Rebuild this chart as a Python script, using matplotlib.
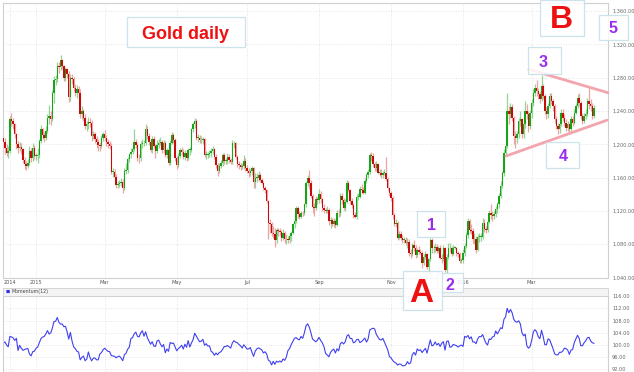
import numpy as np
import pandas as pd
import matplotlib
matplotlib.use("Agg")
import matplotlib.pyplot as plt
from matplotlib.patches import Rectangle

# ---------------- data ----------------
start_date = "2014-12-04"
# 12 closes before the first visible candle (needed for Momentum(12))
warmup_close = [1197, 1184, 1191, 1200, 1197, 1197, 1197, 1195, 1175, 1219, 1199, 1208]

close = [
    1203, 1195, 1190, 1192, 1230, 1228, 1224, 1212, 1200, 1196, 1197, 1194, 1181, 1176, 1174, 1177, 1192, 1183, 1196, 1186,
    1186, 1187, 1204, 1218, 1211, 1208, 1216, 1232, 1234, 1230, 1262, 1277, 1278, 1294, 1293, 1301, 1294, 1280, 1290, 1285, 1257, 1280,
    1278, 1268, 1262, 1266, 1262, 1236, 1240, 1232, 1222, 1224, 1227, 1226, 1210, 1212, 1207, 1203, 1199, 1198, 1208, 1212,
    1208, 1203, 1200, 1198, 1167, 1167, 1161, 1151, 1152, 1153, 1155, 1148, 1168, 1169, 1182, 1188, 1191, 1194, 1203, 1199, 1184, 1183,
    1200, 1201, 1201, 1219, 1210, 1203, 1193, 1206, 1198, 1192, 1199, 1201, 1203, 1193, 1202, 1187, 1193, 1177, 1202, 1211, 1205, 1183,
    1175, 1186, 1193, 1191, 1185, 1189, 1183, 1193, 1193, 1218, 1225, 1228, 1208, 1208, 1205, 1205, 1206, 1187, 1187, 1188, 1189,
    1192, 1194, 1185, 1175, 1168, 1174, 1177, 1187, 1180, 1180, 1185, 1181, 1179, 1201, 1201, 1185, 1176, 1175, 1173, 1174, 1180, 1172,
    1168, 1165, 1168, 1171, 1155, 1160, 1160, 1163, 1157, 1154, 1148, 1145, 1132, 1106, 1104, 1093, 1092, 1085, 1097, 1096, 1095, 1088, 1094,
    1086, 1086, 1085, 1090, 1094, 1104, 1108, 1123, 1116, 1113, 1118, 1117, 1128, 1153, 1160, 1154, 1138, 1125, 1124, 1134, 1133,
    1140, 1134, 1124, 1121, 1120, 1121, 1108, 1109, 1104, 1108, 1103, 1118, 1117, 1138, 1133, 1124, 1131, 1153, 1145, 1132, 1127, 1115,
    1113, 1137, 1137, 1146, 1145, 1142, 1156, 1163, 1167, 1187, 1186, 1176, 1171, 1176, 1166, 1166, 1163, 1166, 1166, 1158, 1147, 1141,
    1135, 1115, 1104, 1105, 1088, 1092, 1088, 1085, 1085, 1081, 1083, 1069, 1068, 1079, 1076, 1067, 1073, 1071, 1070, 1057, 1065,
    1068, 1053, 1062, 1085, 1075, 1075, 1077, 1072, 1076, 1064, 1062, 1076, 1049, 1065, 1075, 1076, 1068, 1076, 1076, 1069, 1068, 1060, 1061,
    1070, 1078, 1091, 1108, 1097, 1096, 1086, 1086, 1073, 1089, 1089, 1089, 1106, 1098, 1097, 1107, 1118, 1115, 1114, 1116, 1122,
    1128, 1138, 1150, 1165, 1190, 1198, 1240, 1236, 1245, 1232, 1210, 1208, 1212, 1228, 1230, 1212, 1225, 1240, 1236, 1222, 1238,
    1250, 1262, 1268, 1264, 1260, 1255, 1270, 1258, 1240, 1236, 1246, 1258, 1252, 1246, 1230, 1222, 1218, 1224, 1238, 1232, 1226, 1220, 1224,
    1218, 1230, 1226, 1238, 1246, 1256, 1250, 1234, 1228, 1234, 1236, 1252, 1248, 1246, 1234, 1244,
]

high = [
    1212, 1208, 1200, 1198, 1234, 1238, 1232, 1226, 1214, 1204, 1203, 1202, 1196, 1185, 1180, 1182, 1198, 1195, 1201, 1199,
    1190, 1195, 1207, 1223, 1220, 1215, 1222, 1236, 1247, 1240, 1265, 1282, 1283, 1299, 1299, 1307, 1302, 1295, 1293, 1292, 1288, 1284,
    1284, 1281, 1272, 1271, 1270, 1266, 1246, 1243, 1236, 1228, 1233, 1232, 1229, 1216, 1215, 1210, 1207, 1203, 1211, 1215,
    1217, 1211, 1207, 1204, 1202, 1172, 1170, 1164, 1156, 1157, 1160, 1158, 1171, 1177, 1185, 1190, 1195, 1198, 1219, 1206, 1201, 1188,
    1204, 1207, 1205, 1224, 1222, 1214, 1206, 1210, 1210, 1200, 1205, 1207, 1209, 1205, 1205, 1204, 1196, 1196, 1205, 1215, 1214, 1208,
    1186, 1189, 1196, 1197, 1194, 1193, 1191, 1195, 1197, 1220, 1227, 1232, 1230, 1213, 1211, 1210, 1209, 1208, 1192, 1191, 1193,
    1195, 1198, 1196, 1188, 1178, 1178, 1181, 1190, 1190, 1184, 1189, 1188, 1184, 1205, 1204, 1203, 1187, 1180, 1178, 1177, 1187, 1183,
    1175, 1172, 1170, 1174, 1173, 1165, 1166, 1168, 1165, 1160, 1156, 1150, 1146, 1133, 1110, 1107, 1102, 1099, 1099, 1100, 1099, 1097, 1098,
    1096, 1092, 1090, 1093, 1096, 1106, 1112, 1126, 1126, 1120, 1120, 1120, 1130, 1156, 1163, 1169, 1157, 1140, 1130, 1138, 1137,
    1146, 1144, 1136, 1128, 1124, 1126, 1124, 1113, 1112, 1111, 1110, 1121, 1122, 1142, 1141, 1135, 1134, 1157, 1156, 1146, 1135, 1129,
    1119, 1140, 1142, 1150, 1152, 1149, 1160, 1166, 1170, 1190, 1191, 1189, 1179, 1180, 1178, 1170, 1170, 1168, 1170, 1185, 1161, 1149,
    1144, 1138, 1118, 1110, 1108, 1096, 1096, 1091, 1089, 1089, 1087, 1086, 1074, 1081, 1085, 1079, 1075, 1078, 1074, 1072, 1068,
    1072, 1070, 1063, 1088, 1088, 1079, 1081, 1080, 1078, 1079, 1068, 1079, 1077, 1068, 1081, 1081, 1078, 1079, 1078, 1077, 1072, 1071, 1064,
    1074, 1082, 1095, 1112, 1110, 1104, 1100, 1094, 1090, 1092, 1094, 1093, 1112, 1110, 1102, 1110, 1121, 1128, 1120, 1120, 1126,
    1131, 1142, 1156, 1168, 1194, 1202, 1262, 1246, 1250, 1248, 1234, 1216, 1216, 1232, 1240, 1232, 1228, 1252, 1248, 1240, 1241,
    1254, 1266, 1272, 1277, 1268, 1264, 1283, 1272, 1260, 1245, 1250, 1262, 1262, 1255, 1248, 1234, 1226, 1228, 1242, 1243, 1236, 1230, 1228,
    1226, 1234, 1234, 1242, 1250, 1260, 1262, 1252, 1238, 1238, 1242, 1256, 1268, 1254, 1250, 1247,
]

low = [
    1198, 1188, 1186, 1183, 1190, 1222, 1218, 1208, 1194, 1190, 1192, 1188, 1177, 1170, 1169, 1172, 1175, 1179, 1180, 1182,
    1181, 1177, 1183, 1201, 1206, 1203, 1205, 1214, 1225, 1223, 1228, 1250, 1271, 1275, 1286, 1289, 1290, 1276, 1276, 1280, 1251, 1252,
    1272, 1264, 1258, 1256, 1258, 1232, 1230, 1228, 1218, 1216, 1219, 1221, 1204, 1206, 1202, 1196, 1192, 1192, 1195, 1204,
    1204, 1198, 1195, 1194, 1164, 1161, 1157, 1148, 1147, 1149, 1150, 1142, 1145, 1164, 1165, 1179, 1184, 1188, 1192, 1196, 1180, 1178,
    1180, 1196, 1198, 1199, 1207, 1199, 1191, 1190, 1196, 1183, 1190, 1196, 1199, 1190, 1190, 1185, 1184, 1175, 1175, 1200, 1201, 1180,
    1170, 1173, 1184, 1187, 1182, 1181, 1180, 1181, 1187, 1191, 1215, 1220, 1205, 1203, 1202, 1202, 1200, 1185, 1182, 1183, 1185,
    1185, 1188, 1182, 1172, 1162, 1165, 1171, 1174, 1176, 1176, 1176, 1178, 1176, 1176, 1196, 1182, 1173, 1170, 1169, 1170, 1170, 1168,
    1165, 1161, 1162, 1163, 1147, 1148, 1155, 1156, 1155, 1152, 1145, 1142, 1130, 1086, 1093, 1090, 1087, 1077, 1081, 1090, 1091, 1084, 1085,
    1082, 1080, 1081, 1081, 1084, 1092, 1100, 1106, 1112, 1110, 1111, 1114, 1115, 1125, 1150, 1146, 1136, 1118, 1114, 1121, 1128,
    1130, 1130, 1120, 1117, 1117, 1118, 1103, 1100, 1102, 1101, 1100, 1102, 1113, 1114, 1128, 1121, 1120, 1130, 1143, 1128, 1124, 1112,
    1111, 1110, 1133, 1135, 1141, 1140, 1140, 1153, 1160, 1164, 1180, 1173, 1168, 1168, 1164, 1162, 1160, 1160, 1163, 1156, 1145, 1138,
    1132, 1110, 1102, 1101, 1085, 1086, 1085, 1082, 1081, 1079, 1076, 1066, 1063, 1066, 1072, 1063, 1065, 1068, 1068, 1052, 1055,
    1062, 1050, 1046, 1060, 1070, 1070, 1071, 1069, 1070, 1062, 1058, 1060, 1047, 1045, 1062, 1071, 1066, 1067, 1074, 1066, 1065, 1058, 1057,
    1058, 1066, 1075, 1088, 1093, 1092, 1082, 1080, 1070, 1072, 1083, 1084, 1086, 1095, 1093, 1095, 1105, 1110, 1108, 1110, 1113,
    1118, 1124, 1136, 1148, 1162, 1186, 1196, 1225, 1232, 1228, 1200, 1195, 1202, 1208, 1222, 1208, 1208, 1220, 1230, 1215, 1218,
    1232, 1246, 1258, 1258, 1255, 1250, 1252, 1254, 1236, 1230, 1232, 1244, 1248, 1240, 1226, 1218, 1212, 1214, 1222, 1228, 1222, 1216, 1216,
    1214, 1216, 1222, 1224, 1236, 1244, 1246, 1230, 1224, 1226, 1230, 1234, 1242, 1240, 1230, 1232,
]

tick_dates = ["2014-12-10", "2015-01-01", "2015-03-02", "2015-05-01", "2015-07-01",
              "2015-09-01", "2015-11-02", "2016-01-01", "2016-03-01"]
tick_labels = ["2014", "2015", "Mar", "May", "Jul", "Sep", "Nov", "2016", "Mar"]
price_ticks = [1040, 1080, 1120, 1160, 1200, 1240, 1280, 1320, 1360]
mom_ticks = [92, 96, 100, 104, 108, 112, 116]
mom_period = 12

# triangle trend lines (candle index, price)
upper_trend_x, upper_trend_y = [321.3, 369.6], [1290, 1262]
lower_trend_x, lower_trend_y = [307.3, 369.0], [1186, 1229]

# ---------------- figure ----------------
W, H = 634, 372
fig = plt.figure(figsize=(W / 100, H / 100), dpi=100)
fig.patch.set_facecolor("white")


def rect(l, t, r, b):
    return [l / W, 1 - b / H, (r - l) / W, (b - t) / H]


ax = fig.add_axes(rect(3, 3, 607.5, 277.5))
axm = fig.add_axes(rect(3, 296, 607.5, 372))

n = len(close)
xs = np.arange(n)
c = np.array(close, float)
full = np.array(warmup_close + close, float)
o = full[len(warmup_close) - 1:-1]
hi = np.maximum.reduce([np.array(high, float), o, c])
lo = np.minimum.reduce([np.array(low, float), o, c])
up = c >= o

dates = pd.bdate_range(start_date, periods=n)
tick_idx = dates.searchsorted(pd.to_datetime(tick_dates))

# wicks
ax.vlines(xs[up], lo[up], hi[up], color="#94d494", lw=0.9, zorder=2)
ax.vlines(xs[~up], lo[~up], hi[~up], color="#eea4a4", lw=0.9, zorder=2)
# bodies
diff = c - o
hgt = np.where(np.abs(diff) < 0.8, np.where(diff >= 0, 0.8, -0.8), diff)
ax.bar(xs[up], hgt[up], bottom=o[up], width=0.9, color="#18a418", linewidth=0, zorder=3)
ax.bar(xs[~up], hgt[~up], bottom=o[~up], width=0.9, color="#c80c0c", linewidth=0, zorder=3)

# triangle
ax.plot(upper_trend_x, upper_trend_y, color="#f4a4ad", lw=2, solid_capstyle="round", zorder=4, clip_on=False)
ax.plot(lower_trend_x, lower_trend_y, color="#f4a4ad", lw=2, solid_capstyle="round", zorder=4, clip_on=False)

x_lo = (3 - 3.3) / 1.636
x_hi = (607.5 - 3.3) / 1.636
for a in (ax, axm):
    a.set_xlim(x_lo, x_hi)
    a.set_xticks(tick_idx)
    a.grid(True, color="#dcdcdc", lw=0.6, ls=(0, (1, 2)))
    a.set_axisbelow(True)
    for s in a.spines.values():
        s.set_color("#d0d0d0")
        s.set_linewidth(0.8)
    a.yaxis.tick_right()
    a.tick_params(axis="both", length=0)

ax.set_ylim(1040.4, 1369.8)
ax.set_yticks(price_ticks)
ax.set_yticklabels([f"{v:,.2f}" for v in price_ticks])
ax.tick_params(axis="y", pad=3.3, labelsize=3.6, labelcolor="#666666")
ax.set_xticklabels(tick_labels)
ax.tick_params(axis="x", pad=1.6, labelsize=3.6, labelcolor="#555555")

# momentum
mom = full[mom_period:] / full[:-mom_period] * 100
axm.plot(xs, mom, color="#4040f0", lw=0.8)
axm.set_ylim(91.0, 116.1)
axm.set_yticks(mom_ticks)
axm.set_yticklabels([f"{v:.2f}" for v in mom_ticks])
axm.tick_params(axis="y", pad=3.3, labelsize=3.6, labelcolor="#666666")
axm.set_xticklabels([])

# momentum header strip
fig.patches.append(Rectangle((3 / W, 1 - 296 / H), 604.5 / W, 8 / H, transform=fig.transFigure,
                             facecolor="#f4f4f4", edgecolor="#d0d0d0", lw=0.6))
fig.text(6 / W, 1 - 292 / H, "■", color="#3030e0", fontsize=3.2, va="center", ha="left")
fig.text(11 / W, 1 - 292 / H, "Momentum(12)", color="#444444", fontsize=3.4, va="center", ha="left")

# annotation boxes and labels
RED = "#ee1111"
PURPLE = "#9a2cf0"
FONT = ["Liberation Sans", "DejaVu Sans"]


def box(l, t, r, b):
    fig.patches.append(Rectangle((l / W, 1 - b / H), (r - l) / W, (b - t) / H, transform=fig.transFigure,
                                 facecolor="white", alpha=0.85, edgecolor="#c6dde9", lw=0.9, zorder=5))


def label(txt, xc, yb, color, size):
    fig.text(xc / W, 1 - yb / H, txt, color=color, fontsize=size, fontweight="bold",
             ha="center", va="baseline", family=FONT, zorder=6)


box(127, 17, 245, 47)
label("Gold daily", 186, 39, RED, 13)
box(540, 0, 584, 36)
label("B", 561, 28, RED, 23)
box(599, 15, 628, 40)
label("5", 613, 33, PURPLE, 11.5)
box(528, 47, 561, 74)
label("3", 543, 67, PURPLE, 11.5)
box(546, 142, 579, 168)
label("4", 563, 161, PURPLE, 11.5)
box(417, 211, 445, 237)
label("1", 431, 230, PURPLE, 11.5)
box(437, 273, 463, 292)
label("2", 450, 290, PURPLE, 11.5)
box(403, 271, 442, 310)
label("A", 421, 302, RED, 24)

fig.savefig("out.png", dpi=100)
